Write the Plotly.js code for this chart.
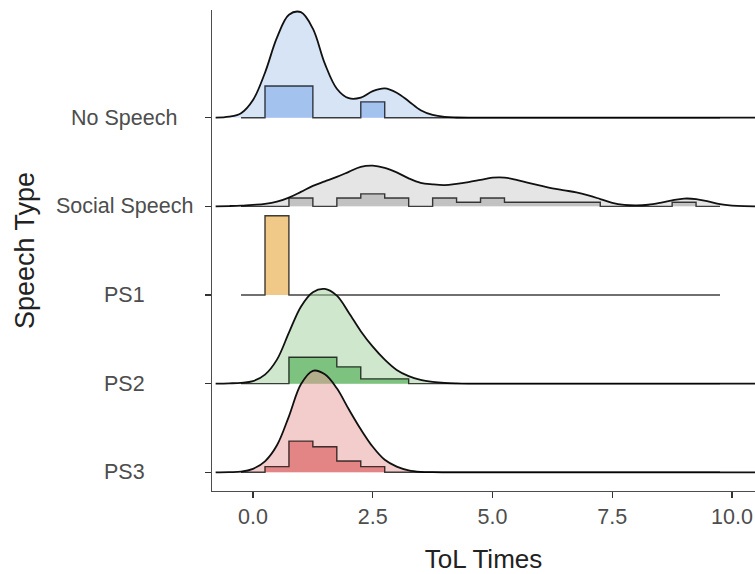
<!DOCTYPE html>
<html><head><meta charset="utf-8">
<script src="https://cdn.plot.ly/plotly-3.0.1.min.js"></script>
<style>html,body{margin:0;padding:0;background:#fff}</style>
</head><body><div id="chart" style="width:755px;height:574px"></div>
<script>
// Rows, bottom to top
const categories = ["PS3", "PS2", "PS1", "Social Speech", "No Speech"];

// Histogram bins: centres 0, 0.5, ..., 9.5 (width 0.5)
const binCenters = [0,0.5,1,1.5,2,2.5,3,3.5,4,4.5,5,5.5,6,6.5,7,7.5,8,8.5,9,9.5];
const histNoSpeech = [0,2,2,0,0,1,0,0,0,0,0,0,0,0,0,0,0,0,0,0];
const histSocial   = [0,0,2,0,2,3,2,0,2,1,2,1,1,1,1,0,0,0,1,0];
const histPS1      = [0,5,0,0,0,0,0,0,0,0,0,0,0,0,0,0,0,0,0,0];
const histPS2      = [0,0,11,11,7,2,2,0,0,0,0,0,0,0,0,0,0,0,0,0];
const histPS3      = [0,2,11,9,4,2,0,0,0,0,0,0,0,0,0,0,0,0,0,0];

// Density curves (relative ridge heights) read at these ToL times
const densX = [-0.78,-0.5,-0.25,0,0.25,0.5,0.75,1,1.25,1.5,1.75,2,2.25,2.5,2.75,3,3.25,3.5,3.75,4,4.25,4.5,4.75,5,5.25,5.5,5.75,6,6.25,6.5,6.75,7,7.25,7.5,7.75,8,8.25,8.5,8.75,9,9.25,9.5,9.75,10,10.25,10.5,11.5];
const densNoSpeech = [0,1.0,4.5,17.7,45,80,103,105.5,89,54,29,19.5,20,26.5,29.3,25,16.5,7.5,2.8,0.8,0.2,0,0,0,0,0,0,0,0,0,0,0,0,0,0,0,0,0,0,0,0,0,0,0,0,0,0];
const densSocial   = [0,0.3,0.7,1.5,2.5,4.7,8.8,14.5,20.5,25,29.5,34.5,39.5,40.7,38.5,34,28,23.5,22,21.3,22.5,24.3,26.5,28.7,28.8,26.5,23.5,20.7,18,16,14,11,7.3,3.5,1.5,1,1.6,3.5,6,7.8,7.3,5,2.2,0.8,0.2,0,0];
const densPS2      = [0,0.3,0.8,2.5,9,24,51,77,91.5,94.7,88,71,52.5,37,24,13.7,7.5,3.8,1.8,0.7,0.2,0,0,0,0,0,0,0,0,0,0,0,0,0,0,0,0,0,0,0,0,0,0,0,0,0,0];
const densPS3      = [0,0.2,0.6,3.5,11,27,56,88,101.5,98,84,63,43,25.5,12.5,5.7,2,0.5,0.1,0,0,0,0,0,0,0,0,0,0,0,0,0,0,0,0,0,0,0,0,0,0,0,0,0,0,0,0];

const xTicks = [0, 2.5, 5, 7.5, 10];

// ---- styling / scales ----
const DENS_SCALE = 1 / 88.65;   // ridge height -> row units
const HIST_SCALE = 0.4473;      // histogram density -> row units
const binWidth = binCenters[1] - binCenters[0];

const rows = [
  {name: "No Speech",     hist: histNoSpeech, dens: densNoSpeech, dFill: "rgba(173,201,237,0.5)", hFill: "rgba(143,179,235,0.7)"},
  {name: "Social Speech", hist: histSocial,   dens: densSocial,   dFill: "rgba(203,203,203,0.5)", hFill: "rgba(179,179,179,0.7)"},
  {name: "PS1",           hist: histPS1,      dens: null,         dFill: null,                    hFill: "rgba(234,176,84,0.7)"},
  {name: "PS2",           hist: histPS2,      dens: densPS2,      dFill: "rgba(159,209,155,0.5)", hFill: "rgba(90,178,92,0.7)"},
  {name: "PS3",           hist: histPS3,      dens: densPS3,      dFill: "rgba(231,153,153,0.5)", hFill: "rgba(220,103,103,0.7)"}
];

const traces = [];
rows.forEach(r => {
  const base = categories.indexOf(r.name) + 1;
  if (r.dens) {
    traces.push({
      type: "scatter", mode: "lines", x: densX,
      y: r.dens.map(h => base + h * DENS_SCALE),
      line: {shape: "spline", smoothing: 1, color: "#111", width: 1.8},
      fill: "toself", fillcolor: r.dFill, hoverinfo: "skip", showlegend: false
    });
  }
  const n = r.hist.reduce((a, b) => a + b, 0);
  const start = binCenters[0] - binWidth / 2;
  const xs = [start], ys = [base];
  r.hist.forEach((c, i) => {
    xs.push(binCenters[i] - binWidth / 2);
    ys.push(base + c / (n * binWidth) * HIST_SCALE);
  });
  xs.push(binCenters[binCenters.length - 1] + binWidth / 2);
  ys.push(base);
  traces.push({
    type: "scatter", mode: "lines", x: xs, y: ys,
    line: {shape: "hv", color: "rgba(0,0,0,0.75)", width: 1.4},
    fill: "toself", fillcolor: r.hFill, hoverinfo: "skip", showlegend: false
  });
});

const FONT = "Liberation Sans, Arial, Helvetica, sans-serif";
const annotations = categories.map((c, i) => ({
  text: c, xref: "paper", yref: "y", x: -0.162, y: i + 1,
  xanchor: "center", yanchor: "middle", showarrow: false,
  font: {family: FONT, size: 21.5, color: "#4d4d4d"}
}));

const layout = {
  width: 755, height: 574,
  margin: {l: 212, r: 0, t: 10, b: 83},
  paper_bgcolor: "#fff", plot_bgcolor: "#fff",
  font: {family: FONT},
  xaxis: {
    range: [-0.856, 10.48], tickvals: xTicks, tickformat: ".1f",
    ticks: "outside", ticklen: 6, tickwidth: 1.3, tickcolor: "#333",
    tickfont: {family: FONT, size: 21.5, color: "#4d4d4d"},
    showline: true, linecolor: "#4d4d4d", linewidth: 1.3,
    showgrid: false, zeroline: false,
    title: {text: "ToL Times", font: {family: FONT, size: 26, color: "#222"}, standoff: 22}
  },
  yaxis: {
    range: [0.789, 6.215], tickvals: [1, 2, 3, 4, 5],
    ticks: "outside", ticklen: 6, tickwidth: 1.3, tickcolor: "#333",
    showticklabels: false,
    showline: true, linecolor: "#4d4d4d", linewidth: 1.3,
    showgrid: false, zeroline: false,
    title: {text: "Speech Type", font: {family: FONT, size: 27, color: "#222"}, standoff: 162}
  },
  annotations: annotations
};

Plotly.newPlot("chart", traces, layout, {displayModeBar: false, staticPlot: true});
</script>
</body></html>
